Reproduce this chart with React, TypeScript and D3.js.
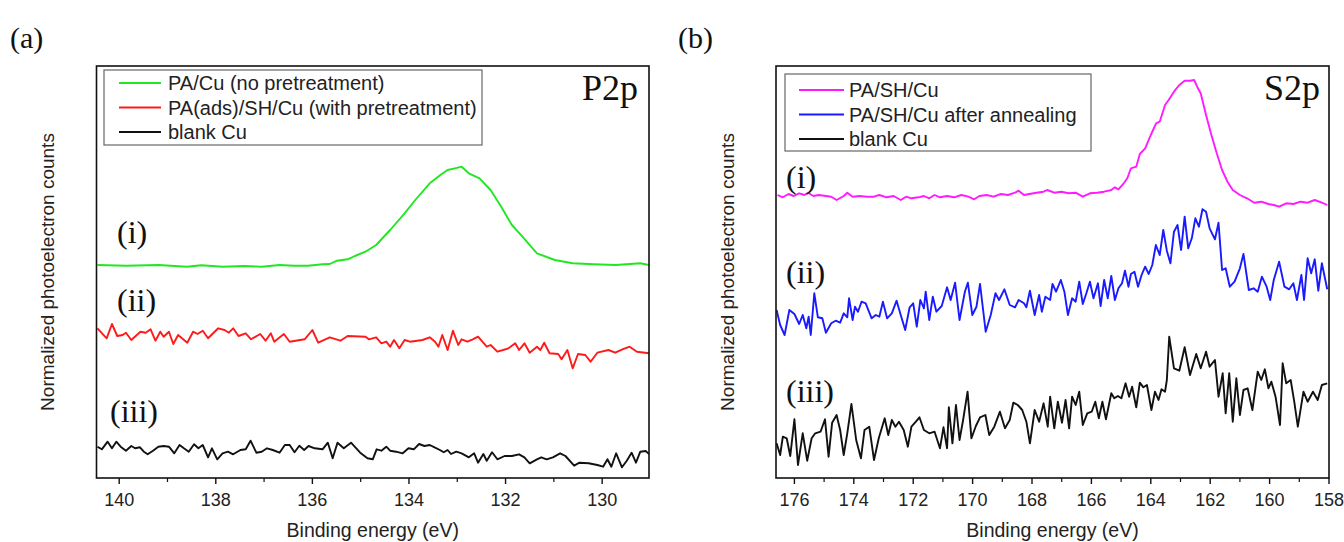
import React from "react";
import * as d3 from "d3";

type Pt = [number, number];

// ---- (a) P2p : binding energy (eV) vs normalized counts (a.u.) ----
const p2pNoPretreat: Pt[] = [
  [140.45, 21.3], [139.86, 21.23], [139.19, 21.3], [138.6, 21.13], [138.3, 21.27], [137.86, 21.13],
  [137.42, 21.2], [137.05, 21.13], [136.68, 21.3], [136.38, 21.23], [136.09, 21.23], [135.79, 21.37],
  [135.64, 21.4], [135.49, 21.73], [135.27, 21.87], [135.12, 22.2], [134.9, 22.63], [134.68, 23.3],
  [134.39, 24.8], [134.09, 26.47], [133.87, 27.8], [133.57, 29.47], [133.35, 30.3], [133.2, 30.8],
  [133.05, 30.97], [132.91, 31.13], [132.76, 30.47], [132.54, 29.97], [132.31, 28.8], [132.09, 27.13],
  [131.87, 25.3], [131.65, 24.13], [131.35, 22.47], [130.98, 21.8], [130.61, 21.47], [130.17, 21.37],
  [129.72, 21.3], [129.21, 21.47], [129.02, 21.3],
];

const p2pPretreat: Pt[] = [
  [140.45, 14.97], [140.26, 13.97], [140.15, 15.4], [140.04, 14.2], [139.93, 14.3], [139.86, 14.53],
  [139.75, 13.8], [139.56, 14.63], [139.45, 14.53], [139.35, 14.87], [139.25, 13.73], [139.15, 14.63],
  [139.08, 14.13], [138.97, 14.63], [138.88, 13.4], [138.78, 14.3], [138.59, 13.53], [138.47, 14.63],
  [138.38, 14.4], [138.27, 14.73], [138.16, 13.97], [137.95, 14.97], [137.82, 14.8], [137.73, 14.53],
  [137.64, 14.97], [137.53, 14.2], [137.38, 14.47], [137.27, 13.87], [137.08, 14.4], [136.97, 13.73],
  [136.86, 14.47], [136.79, 13.63], [136.59, 14.4], [136.47, 13.63], [136.16, 13.87], [136.0, 14.8],
  [135.88, 13.53], [135.64, 14.07], [135.42, 13.73], [135.27, 14.2], [134.9, 14.13], [134.83, 13.87],
  [134.68, 14.07], [134.57, 13.47], [134.47, 13.63], [134.39, 13.13], [134.31, 13.8], [134.2, 12.97],
  [134.09, 13.8], [133.98, 13.63], [133.72, 13.8], [133.57, 14.07], [133.46, 13.63], [133.39, 13.13],
  [133.31, 14.3], [133.2, 12.8], [133.09, 14.73], [132.98, 13.3], [132.91, 13.87], [132.79, 13.63],
  [132.68, 13.87], [132.57, 14.13], [132.39, 13.13], [132.31, 13.3], [132.17, 12.63], [132.05, 12.8],
  [131.94, 12.97], [131.8, 13.47], [131.72, 12.8], [131.61, 13.47], [131.5, 12.53], [131.35, 13.13],
  [131.28, 12.8], [131.2, 13.53], [131.09, 12.47], [130.91, 12.4], [130.84, 11.87], [130.72, 12.8],
  [130.61, 10.97], [130.5, 12.4], [130.35, 12.3], [130.24, 11.63], [130.1, 12.53], [129.87, 12.8],
  [129.73, 12.53], [129.58, 12.87], [129.43, 13.13], [129.28, 12.63], [129.02, 12.47],
];

const p2pBlank: Pt[] = [
  [140.45, 3.13], [140.36, 2.87], [140.24, 3.63], [140.15, 2.97], [140.06, 3.63], [139.97, 3.13],
  [139.86, 2.73], [139.75, 3.2], [139.67, 2.97], [139.57, 3.07], [139.49, 2.63], [139.41, 2.37],
  [139.3, 2.73], [139.19, 3.13], [139.08, 3.2], [138.97, 3.13], [138.86, 2.47], [138.75, 3.3],
  [138.66, 2.97], [138.56, 2.63], [138.45, 3.37], [138.36, 2.97], [138.27, 3.3], [138.16, 2.07],
  [138.08, 2.97], [137.97, 1.87], [137.86, 2.47], [137.75, 2.63], [137.64, 2.37], [137.49, 2.8],
  [137.38, 2.87], [137.28, 3.73], [137.16, 2.53], [137.05, 2.63], [136.94, 2.97], [136.82, 2.8],
  [136.68, 2.53], [136.57, 3.3], [136.47, 3.3], [136.37, 2.57], [136.27, 3.23], [136.17, 2.8],
  [136.08, 3.2], [135.95, 2.97], [135.79, 2.87], [135.68, 3.53], [135.58, 1.97], [135.48, 3.53],
  [135.35, 2.97], [135.2, 3.53], [135.01, 2.53], [134.86, 1.97], [134.75, 1.87], [134.67, 2.87],
  [134.57, 2.73], [134.47, 3.13], [134.39, 2.73], [134.27, 2.63], [134.13, 2.47], [134.01, 2.97],
  [133.9, 2.87], [133.79, 3.4], [133.68, 3.2], [133.57, 3.3], [133.46, 3.03], [133.36, 2.8],
  [133.28, 2.57], [133.2, 2.8], [133.13, 2.4], [133.02, 2.63], [132.91, 2.47], [132.76, 2.07],
  [132.65, 2.47], [132.57, 1.53], [132.46, 2.4], [132.39, 1.73], [132.28, 2.57], [132.17, 1.87],
  [132.02, 2.2], [131.87, 2.2], [131.72, 2.37], [131.61, 2.07], [131.5, 1.47], [131.35, 1.87],
  [131.26, 2.07], [131.15, 1.87], [131.02, 2.07], [130.87, 2.47], [130.76, 2.2], [130.58, 1.23],
  [130.47, 1.53], [130.28, 1.47], [130.1, 1.3], [129.98, 1.13], [129.89, 1.87], [129.81, 1.13],
  [129.71, 2.47], [129.59, 1.07], [129.49, 1.73], [129.39, 2.53], [129.3, 1.53], [129.21, 2.63],
  [129.1, 2.7], [129.02, 2.37],
];

// ---- (b) S2p ----
const s2pPaSh: Pt[] = [
  [176.57, 28.3], [176.39, 28.07], [176.2, 28.4], [176.02, 28.2], [175.84, 28.47], [175.66, 28.3],
  [175.54, 28.53], [175.36, 28.2], [175.18, 28.3], [174.94, 28.2], [174.76, 28.13], [174.58, 27.8],
  [174.34, 28.2], [174.22, 28.53], [174.04, 28.13], [173.8, 28.2], [173.56, 28.13], [173.32, 28.13],
  [173.14, 28.3], [172.9, 28.07], [172.66, 28.2], [172.42, 27.8], [172.24, 28.13], [172.06, 27.97],
  [171.82, 28.07], [171.64, 28.2], [171.46, 27.97], [171.28, 28.3], [171.1, 28.07], [170.86, 28.2],
  [170.62, 28.07], [170.38, 28.3], [170.14, 28.13], [169.95, 27.87], [169.77, 28.2], [169.53, 28.3],
  [169.29, 28.13], [169.05, 28.4], [168.81, 28.3], [168.57, 28.53], [168.45, 28.73], [168.27, 28.3],
  [168.09, 28.4], [167.85, 28.53], [167.61, 28.63], [167.49, 28.8], [167.25, 28.53], [167.01, 28.63],
  [166.77, 28.47], [166.53, 28.53], [166.29, 28.13], [166.05, 28.47], [165.81, 28.53], [165.57, 28.63],
  [165.33, 28.8], [165.21, 29.07], [165.09, 28.87], [164.91, 29.47], [164.79, 29.97], [164.67, 30.97],
  [164.49, 31.13], [164.37, 32.4], [164.19, 32.97], [164.0, 34.3], [163.82, 35.47], [163.7, 35.63],
  [163.52, 37.3], [163.4, 37.8], [163.22, 38.63], [163.04, 39.3], [162.86, 39.73], [162.68, 39.73],
  [162.54, 39.8], [162.44, 39.13], [162.32, 38.47], [162.14, 36.3], [161.96, 34.3], [161.78, 32.47],
  [161.6, 30.8], [161.42, 29.63], [161.24, 28.8], [161.0, 28.3], [160.76, 27.97], [160.52, 27.53],
  [160.28, 27.63], [160.04, 27.4], [159.86, 27.3], [159.68, 27.13], [159.44, 27.47], [159.2, 27.4],
  [158.96, 27.63], [158.72, 27.53], [158.48, 27.8], [158.24, 27.53], [158.06, 27.3],
];

const s2pAnnealed: Pt[] = [
  [176.6, 16.8], [176.48, 15.3], [176.33, 14.3], [176.17, 16.8], [176.0, 16.4], [175.84, 15.4],
  [175.72, 16.3], [175.6, 14.97], [175.52, 16.13], [175.45, 14.3], [175.33, 18.47], [175.21, 16.07],
  [175.06, 15.97], [174.94, 14.53], [174.76, 15.47], [174.61, 15.73], [174.46, 15.53], [174.34, 16.47],
  [174.22, 16.07], [174.16, 17.97], [174.04, 15.8], [173.96, 17.13], [173.86, 16.63], [173.74, 17.63],
  [173.6, 17.47], [173.4, 15.97], [173.26, 16.3], [173.14, 16.13], [173.02, 17.63], [172.88, 15.97],
  [172.72, 16.47], [172.56, 17.73], [172.42, 16.3], [172.27, 14.8], [172.12, 17.07], [172.0, 17.47],
  [171.88, 15.13], [171.76, 17.8], [171.64, 16.97], [171.58, 18.63], [171.46, 15.8], [171.34, 18.13],
  [171.22, 16.63], [171.04, 17.2], [170.86, 19.07], [170.74, 17.8], [170.59, 19.53], [170.44, 15.8],
  [170.26, 18.63], [170.16, 19.53], [170.01, 16.3], [169.87, 17.13], [169.75, 19.4], [169.56, 14.63],
  [169.39, 16.3], [169.23, 18.47], [169.11, 17.8], [168.93, 18.87], [168.75, 17.3], [168.57, 17.07],
  [168.45, 17.8], [168.27, 17.47], [168.19, 17.07], [168.07, 18.73], [167.91, 16.3], [167.76, 18.3],
  [167.67, 16.63], [167.55, 18.13], [167.39, 17.8], [167.31, 19.4], [167.19, 18.63], [167.03, 19.8],
  [166.91, 18.63], [166.79, 16.3], [166.65, 17.97], [166.53, 17.63], [166.41, 19.63], [166.29, 17.4],
  [166.17, 18.47], [166.05, 19.63], [165.93, 17.97], [165.78, 19.47], [165.69, 17.2], [165.57, 19.8],
  [165.45, 17.97], [165.33, 20.2], [165.21, 17.8], [165.09, 18.97], [164.97, 19.47], [164.87, 20.73],
  [164.75, 19.13], [164.67, 20.4], [164.55, 20.63], [164.43, 19.13], [164.31, 20.3], [164.19, 21.13],
  [164.07, 20.4], [163.95, 21.3], [163.83, 23.3], [163.7, 22.3], [163.58, 24.8], [163.46, 22.73],
  [163.34, 21.47], [163.22, 24.63], [163.1, 25.3], [162.98, 22.8], [162.86, 26.13], [162.74, 22.97],
  [162.62, 23.97], [162.5, 25.97], [162.38, 25.13], [162.26, 26.87], [162.14, 26.63], [162.02, 24.97],
  [161.84, 23.87], [161.72, 25.53], [161.6, 20.8], [161.48, 20.97], [161.34, 19.13], [161.18, 19.63],
  [161.0, 20.97], [160.88, 22.4], [160.7, 18.8], [160.54, 18.97], [160.4, 18.63], [160.26, 20.13],
  [160.1, 19.13], [159.98, 17.8], [159.86, 19.8], [159.68, 21.63], [159.5, 19.13], [159.34, 18.87],
  [159.2, 19.47], [159.08, 17.8], [158.93, 20.3], [158.84, 17.8], [158.72, 21.97], [158.6, 20.47],
  [158.48, 21.87], [158.36, 18.73], [158.24, 21.47], [158.06, 18.87],
];

const s2pBlank: Pt[] = [
  [176.6, 3.47], [176.48, 2.3], [176.39, 4.13], [176.26, 3.97], [176.14, 2.2], [176.0, 5.87],
  [175.88, 1.3], [175.72, 4.47], [175.57, 1.73], [175.42, 3.97], [175.3, 4.47], [175.12, 4.63],
  [174.97, 5.87], [174.85, 2.13], [174.73, 5.53], [174.58, 6.3], [174.46, 4.8], [174.34, 2.3],
  [174.22, 4.47], [174.08, 7.4], [173.92, 3.8], [173.76, 1.97], [173.64, 4.8], [173.48, 5.13],
  [173.32, 1.8], [173.16, 3.97], [172.96, 5.97], [172.84, 4.3], [172.72, 5.8], [172.6, 5.13],
  [172.48, 5.63], [172.32, 4.8], [172.18, 3.13], [172.06, 5.13], [171.91, 5.63], [171.79, 6.07],
  [171.64, 4.8], [171.46, 4.47], [171.28, 4.63], [171.1, 2.97], [170.98, 5.07], [170.86, 2.97],
  [170.8, 7.07], [170.68, 3.47], [170.56, 7.3], [170.44, 3.8], [170.32, 5.8], [170.17, 8.63],
  [170.04, 3.97], [169.89, 5.2], [169.75, 6.07], [169.57, 6.3], [169.44, 4.3], [169.27, 5.13],
  [169.08, 6.63], [168.91, 4.97], [168.75, 5.8], [168.63, 7.53], [168.48, 7.3], [168.33, 6.8],
  [168.19, 5.63], [168.07, 3.47], [167.91, 6.8], [167.76, 5.63], [167.61, 7.47], [167.47, 5.13],
  [167.39, 8.13], [167.25, 4.97], [167.13, 7.63], [166.99, 5.53], [166.87, 7.8], [166.75, 4.97],
  [166.65, 8.13], [166.53, 7.3], [166.41, 8.63], [166.29, 5.3], [166.14, 6.47], [165.99, 6.63],
  [165.87, 7.63], [165.75, 5.97], [165.63, 7.63], [165.51, 5.87], [165.33, 8.47], [165.23, 7.97],
  [165.11, 8.2], [164.99, 7.97], [164.85, 9.47], [164.73, 8.13], [164.63, 9.13], [164.49, 7.07],
  [164.37, 9.53], [164.25, 9.07], [164.13, 9.3], [163.98, 6.8], [163.86, 8.63], [163.74, 7.8],
  [163.64, 8.87], [163.52, 8.63], [163.46, 9.8], [163.38, 14.13], [163.22, 10.97], [163.04, 10.73],
  [162.86, 13.07], [162.68, 10.3], [162.47, 12.4], [162.32, 10.97], [162.14, 12.63], [162.02, 11.13],
  [161.84, 11.8], [161.72, 8.13], [161.58, 10.47], [161.48, 6.47], [161.36, 10.47], [161.24, 5.63],
  [161.12, 9.97], [161.0, 6.3], [160.88, 8.8], [160.74, 8.97], [160.58, 6.8], [160.4, 10.63],
  [160.28, 9.8], [160.16, 10.87], [160.04, 8.97], [159.94, 9.63], [159.8, 8.13], [159.65, 5.3],
  [159.56, 11.47], [159.44, 9.47], [159.29, 9.8], [159.17, 7.63], [159.05, 5.13], [158.86, 8.63],
  [158.72, 7.63], [158.54, 8.63], [158.38, 7.8], [158.24, 9.3], [158.06, 9.47],
];

const p2pLegend = ["PA/Cu (no pretreatment)", "PA(ads)/SH/Cu (with pretreatment)", "blank Cu"];
const s2pLegend = ["PA/SH/Cu", "PA/SH/Cu after annealing", "blank Cu"];
const curveTags = ["(i)", "(ii)", "(iii)"];
const p2pMajorTicks = [140, 138, 136, 134, 132, 130];
const p2pMinorTicks = [139, 137, 135, 133, 131];
const s2pMajorTicks = [176, 174, 172, 170, 168, 166, 164, 162, 160, 158];
const s2pMinorTicks = [175, 173, 171, 169, 167, 165, 163, 161, 159];

const SERIF = "'Liberation Serif', 'Times New Roman', serif";
const SANS = "'Liberation Sans', Arial, sans-serif";

const TOP = 66;
const BOTTOM = 478;
const yScale = d3.scaleLinear().domain([0, 41.2]).range([BOTTOM, TOP]);

type PanelProps = {
  id: string;
  left: number;
  right: number;
  domain: [number, number];
  series: Pt[][];
  colors: string[];
  legend: string[];
  legendBox: { x: number; y: number; w: number; h: number; row0: number; step: number; lineX: number; lineW: number; textX: number };
  title: string;
  titleX: number;
  tags: { x: number; y: number }[];
  major: number[];
  minor: number[];
  yLabelX: number;
};

const Panel = (p: PanelProps) => {
  const x = d3.scaleLinear().domain(p.domain).range([p.left, p.right]);
  const line = d3.line<Pt>().x(d => x(d[0])).y(d => yScale(d[1]));
  const lb = p.legendBox;
  return (
    <g>
      <defs>
        <clipPath id={`clip-${p.id}`}>
          <rect x={p.left} y={TOP} width={p.right - p.left} height={BOTTOM - TOP} />
        </clipPath>
      </defs>
      <g clipPath={`url(#clip-${p.id})`} fill="none" strokeWidth={1.9} strokeLinejoin="round">
        {p.series.map((s, i) => (
          <path key={i} d={line(s) || ""} stroke={p.colors[i]} />
        ))}
      </g>
      <rect x={p.left} y={TOP} width={p.right - p.left} height={BOTTOM - TOP} fill="none" stroke="#111" strokeWidth={1.6} />
      {p.major.map(t => (
        <line key={`M${t}`} x1={x(t)} x2={x(t)} y1={BOTTOM} y2={BOTTOM + 6} stroke="#111" strokeWidth={1.4} />
      ))}
      {p.minor.map(t => (
        <line key={`m${t}`} x1={x(t)} x2={x(t)} y1={BOTTOM} y2={BOTTOM + 4} stroke="#111" strokeWidth={1.2} />
      ))}
      {p.major.map(t => (
        <text key={`l${t}`} x={x(t)} y={BOTTOM + 28} textAnchor="middle" fontFamily={SANS} fontSize={18} fill="#222">
          {t}
        </text>
      ))}
      <text x={(p.left + p.right) / 2} y={537} textAnchor="middle" fontFamily={SANS} fontSize={19.5} fill="#222">
        Binding energy (eV)
      </text>
      <text
        transform={`translate(${p.yLabelX},${(TOP + BOTTOM) / 2}) rotate(-90)`}
        textAnchor="middle"
        dominantBaseline="central"
        fontFamily={SANS}
        fontSize={19}
        fill="#222"
      >
        Normalized photoelectron counts
      </text>
      <rect x={lb.x} y={lb.y} width={lb.w} height={lb.h} fill="white" stroke="#666" strokeWidth={1.2} />
      {p.legend.map((name, i) => (
        <g key={name} transform={`translate(0,${lb.y + lb.row0 + i * lb.step})`}>
          <line x1={lb.lineX} x2={lb.lineX + lb.lineW} y1={0} y2={0} stroke={p.colors[i]} strokeWidth={1.9} />
          <text x={lb.textX} y={0} dominantBaseline="central" fontFamily={SANS} fontSize={20} fill="#222">
            {name}
          </text>
        </g>
      ))}
      <text x={p.titleX} y={100} textAnchor="end" fontFamily={SERIF} fontSize={36} fill="#111">
        {p.title}
      </text>
      {curveTags.map((t, i) => (
        <text key={t} x={p.tags[i].x} y={p.tags[i].y} fontFamily={SERIF} fontSize={32} fill="#111">
          {t}
        </text>
      ))}
    </g>
  );
};

export default function App() {
  return (
    <svg width={1344} height={542} style={{ position: "absolute", left: 0, top: 0, background: "white" }}>
      <rect width={1344} height={542} fill="white" />
      <text x={10} y={48} fontFamily={SERIF} fontSize={30} fill="#111">(a)</text>
      <text x={678} y={48} fontFamily={SERIF} fontSize={30} fill="#111">(b)</text>
      <Panel
        id="a"
        left={96.5}
        right={649}
        domain={[140.47, 129.03]}
        series={[p2pNoPretreat, p2pPretreat, p2pBlank]}
        colors={["#22e622", "#ff1a1a", "#111111"]}
        legend={p2pLegend}
        legendBox={{ x: 104, y: 70, w: 378, h: 75, row0: 13, step: 24.5, lineX: 119, lineW: 42, textX: 168 }}
        title="P2p"
        titleX={638}
        tags={[{ x: 117, y: 243 }, { x: 117, y: 311 }, { x: 110, y: 422 }]}
        major={p2pMajorTicks}
        minor={p2pMinorTicks}
        yLabelX={47}
      />
      <Panel
        id="b"
        left={776}
        right={1329}
        domain={[176.62, 158]}
        series={[s2pPaSh, s2pAnnealed, s2pBlank]}
        colors={["#ff1aff", "#1a1aff", "#111111"]}
        legend={s2pLegend}
        legendBox={{ x: 785, y: 74, w: 306, h: 77, row0: 16, step: 24.5, lineX: 799, lineW: 45, textX: 849 }}
        title="S2p"
        titleX={1320}
        tags={[{ x: 786, y: 188 }, { x: 786, y: 283 }, { x: 786, y: 402 }]}
        major={s2pMajorTicks}
        minor={s2pMinorTicks}
        yLabelX={727}
      />
    </svg>
  );
}
